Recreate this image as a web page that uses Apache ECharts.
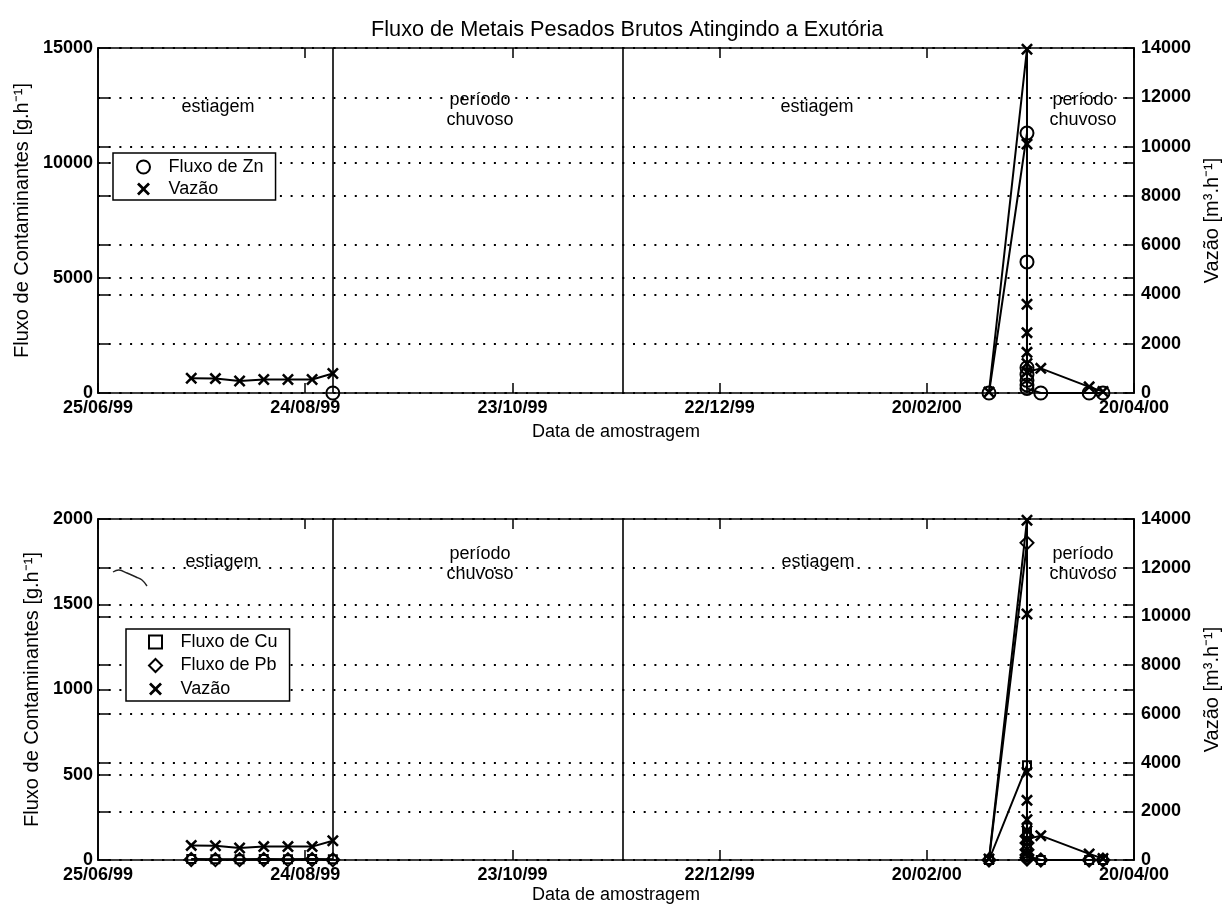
<!DOCTYPE html>
<html>
<head>
<meta charset="utf-8">
<script src="https://cdn.jsdelivr.net/npm/echarts@6/dist/echarts.min.js"></script>
<style>
  html, body { margin: 0; padding: 0; background: #fff; }
  #chart { width: 1230px; height: 911px; }
</style>
</head>
<body>
<div id="chart"></div>
<script>
// ---- sampling dates (dd/mm/yy) ----
const xTicks = ['25/06/99', '24/08/99', '23/10/99', '22/12/99', '20/02/00', '20/04/00'];
const dryDates = ['22/07/99', '29/07/99', '05/08/99', '12/08/99', '19/08/99', '26/08/99', '01/09/99'];
const wetDates = ['09/03/00', '20/03/00', '20/03/00', '20/03/00', '20/03/00', '20/03/00', '20/03/00', '20/03/00',
                  '24/03/00', '07/04/00', '11/04/00'];
const periodBounds = ['01/09/99', '24/11/99', '20/03/00'];

// ---- flow (m3/h) ----
const vazaoDry = [600, 585, 490, 550, 550, 550, 790];
const vazaoWet = [40, 13950, 10100, 3600, 2450, 1650, 1200, 850, 1000, 250, 60];

// ---- contaminant fluxes (g/h) ----
const znDry = [null, null, null, null, null, null, 0];
const znWet = [0, 11300, 5700, 1100, 800, 550, 350, 200, 0, 0, 0];
const cuDry = [6, 5, 5, 6, 5, 6, 4];
const cuWet = [0, 555, 190, 150, 110, 70, 40, 20, 0, 0, 0];
const pbDry = [3, 2, 2, 3, 2, 3, 1];
const pbWet = [0, 1860, 140, 100, 60, 30, 15, 5, 0, 0, 0];

// ---- axis ranges ----
const fluxZnMax = 15000, fluxZnStep = 5000;
const fluxCuPbMax = 2000, fluxCuPbStep = 500;
const vazaoMax = 14000, vazaoStep = 2000;

// ---- texts ----
const titleText = 'Fluxo de Metais Pesados Brutos Atingindo a Exutória';
const xName = 'Data de amostragem';
const yLeftName = 'Fluxo de Contaminantes [g.h⁻¹]';
const yRightName = 'Vazão [m³.h⁻¹]';
const periodNames = ['estiagem', 'período\nchuvoso', 'estiagem', 'período\nchuvoso'];

// ---- date helpers ----
const BASE = Date.UTC(1999, 5, 25);
function toDay(s) {
  const [d, m, y] = s.split('/').map(Number);
  const yr = y > 50 ? 1900 + y : 2000 + y;
  return Math.round((Date.UTC(yr, m - 1, d) - BASE) / 864e5);
}
const xMin = toDay(xTicks[0]);
const xMax = toDay(xTicks[xTicks.length - 1]);
const xStep = (xMax - xMin) / (xTicks.length - 1);
const pairs = (dates, vals) => dates.map((d, i) => [toDay(d), vals[i]]);

// ---- styling ----
const FONT = '"Liberation Sans", Arial, Helvetica, sans-serif';
const INK = '#000';
const X_PATH = 'path://M0,1.5L1.5,0L5,3.5L8.5,0L10,1.5L6.5,5L10,8.5L8.5,10L5,6.5L1.5,10L0,8.5L3.5,5Z';
const SQ_PATH = 'path://M0,0H10V10H0Z';
const DIA_PATH = 'path://M5,0L10,5L5,10L0,5Z';
const dotted = { color: INK, width: 2, type: [2, 8.7] };
const hollow = { color: 'rgba(0,0,0,0)', borderColor: INK, borderWidth: 2 };

const grids = [
  { left: 98, right: 94, top: 48, height: 345 },
  { left: 98, right: 94, top: 519, height: 341 }
];

function xAx(grid, pos, labels, nameGap) {
  return {
    type: 'value', gridIndex: grid, position: pos, min: xMin, max: xMax, interval: xStep,
    axisLine: { show: true, onZero: false, lineStyle: { color: INK, width: 1.6 } },
    axisTick: { show: true, inside: true, length: 10, lineStyle: { color: INK, width: 1.5 } },
    axisLabel: {
      show: labels, margin: 6, color: INK, fontFamily: FONT, fontSize: 18, fontWeight: 'bold',
      showMinLabel: true, showMaxLabel: true,
      formatter: v => xTicks[Math.round((v - xMin) / xStep)]
    },
    splitLine: { show: false },
    name: labels ? xName : '', nameLocation: 'middle', nameGap: nameGap || 0,
    nameTextStyle: { color: INK, fontFamily: FONT, fontSize: 18 }
  };
}

function yAx(grid, pos, max, step, labels, name, nameGap) {
  return {
    type: 'value', gridIndex: grid, position: pos, min: 0, max: max, interval: step,
    axisLine: { show: true, onZero: false, lineStyle: { color: INK, width: 1.6 } },
    axisTick: { show: true, inside: true, length: 11, lineStyle: { color: INK, width: 1.5 } },
    axisLabel: {
      show: labels, margin: pos === 'left' ? 5 : 7, color: INK,
      fontFamily: FONT, fontSize: 18, fontWeight: 'bold', showMinLabel: true, showMaxLabel: true,
      formatter: v => String(v)
    },
    splitLine: { show: labels, lineStyle: dotted },
    name: labels ? name : '', nameLocation: 'middle', nameRotate: 90, nameGap: nameGap || 0,
    nameTextStyle: { color: INK, fontFamily: FONT, fontSize: 20 }
  };
}

// each panel: labelled left + right axes, plus mirrored tick sets on the opposite sides
const xAxes = [
  xAx(0, 'bottom', true, 30), xAx(0, 'top', false),
  xAx(1, 'bottom', true, 26), xAx(1, 'top', false)
];
const yAxes = [
  yAx(0, 'left', fluxZnMax, fluxZnStep, true, yLeftName, 66),      // 0
  yAx(0, 'right', vazaoMax, vazaoStep, true, yRightName, 66),       // 1
  yAx(0, 'right', fluxZnMax, fluxZnStep, false),                    // 2
  yAx(0, 'left', vazaoMax, vazaoStep, false),                       // 3
  yAx(1, 'left', fluxCuPbMax, fluxCuPbStep, true, yLeftName, 53),   // 4
  yAx(1, 'right', vazaoMax, vazaoStep, true, yRightName, 66),       // 5
  yAx(1, 'right', fluxCuPbMax, fluxCuPbStep, false),                // 6
  yAx(1, 'left', vazaoMax, vazaoStep, false)                        // 7
];

function lineSeries(name, data, xi, yi, symbol, size, itemStyle, extra) {
  return Object.assign({
    type: 'line', name: name, data: data, xAxisIndex: xi, yAxisIndex: yi,
    symbol: symbol, symbolSize: size, showAllSymbol: true, clip: false,
    lineStyle: { color: INK, width: 2 }, itemStyle: itemStyle,
    animation: false, emphasis: { disabled: true }
  }, extra || {});
}
const xMarker = { color: INK, borderWidth: 0 };

const dividers = {
  silent: true, symbol: 'none', label: { show: false },
  lineStyle: { color: INK, type: 'solid', width: 1.6 },
  data: periodBounds.map(d => ({ xAxis: toDay(d) }))
};

const series = [
  // upper panel: zinc flux and flow
  lineSeries('Fluxo de Zn', pairs(dryDates, znDry), 0, 0, 'circle', 13, hollow, { markLine: dividers }),
  lineSeries('Fluxo de Zn', pairs(wetDates, znWet), 0, 0, 'circle', 13, hollow),
  lineSeries('Vazão', pairs(dryDates, vazaoDry), 0, 1, X_PATH, 12, xMarker),
  lineSeries('Vazão', pairs(wetDates, vazaoWet), 0, 1, X_PATH, 12, xMarker),
  // lower panel: copper and lead fluxes and flow
  lineSeries('Fluxo de Cu', pairs(dryDates, cuDry), 2, 4, 'rect', 8, hollow, { markLine: dividers }),
  lineSeries('Fluxo de Cu', pairs(wetDates, cuWet), 2, 4, 'rect', 8, hollow),
  lineSeries('Fluxo de Pb', pairs(dryDates, pbDry), 2, 4, 'diamond', 13, hollow),
  lineSeries('Fluxo de Pb', pairs(wetDates, pbWet), 2, 4, 'diamond', 13, hollow),
  lineSeries('Vazão', pairs(dryDates, vazaoDry), 2, 5, X_PATH, 12, xMarker),
  lineSeries('Vazão', pairs(wetDates, vazaoWet), 2, 5, X_PATH, 12, xMarker)
];

const legendText = { color: INK, fontFamily: FONT, fontSize: 18 };
const legendIcons = {
  'Fluxo de Zn': { icon: 'circle', itemStyle: hollow },
  'Fluxo de Cu': { icon: SQ_PATH, itemStyle: hollow },
  'Fluxo de Pb': { icon: DIA_PATH, itemStyle: hollow },
  'Vazão': { icon: X_PATH, itemStyle: { color: INK, borderWidth: 0 } }
};
function legendBox(names, left, top, padding, gap, iconSize) {
  return {
    orient: 'vertical', left: left, top: top, padding: padding, itemGap: gap,
    itemWidth: 40, itemHeight: iconSize, selectedMode: false, symbolKeepAspect: true,
    backgroundColor: '#fff', borderColor: INK, borderWidth: 1.5, borderRadius: 0,
    textStyle: legendText, z: 10,
    data: names.map(n => Object.assign({ name: n }, legendIcons[n]))
  };
}

const labelStyle = { fill: INK, font: '18px ' + FONT, textAlign: 'center', textVerticalAlign: 'middle', lineHeight: 20 };
function periodText(i, x, y) {
  return { type: 'text', x: x, y: y, silent: true, z: 5, style: Object.assign({ text: periodNames[i] }, labelStyle) };
}

const option = {
  backgroundColor: '#fff',
  animation: false,
  title: {
    text: titleText, left: 366, top: 14,
    textStyle: { color: INK, fontFamily: FONT, fontSize: 21.7, fontWeight: 'normal' }
  },
  grid: grids,
  xAxis: xAxes,
  yAxis: yAxes,
  legend: [
    legendBox(['Fluxo de Zn', 'Vazão'], 113, 153, [5, 12, 2, 23], 4, 13),
    legendBox(['Fluxo de Cu', 'Fluxo de Pb', 'Vazão'], 126, 629, [4, 12, 3, 22], 5.5, 13)
  ],
  graphic: [
    periodText(0, 218, 107), periodText(1, 480, 110), periodText(2, 817, 107), periodText(3, 1083, 110),
    periodText(0, 222, 562), periodText(1, 480, 564), periodText(2, 818, 562), periodText(3, 1083, 564),
    { type: 'polyline', silent: true, z: 5,
      shape: { points: [[113, 572], [119, 570], [127, 573], [136, 577], [142, 580], [147, 586]], smooth: 0.4 },
      style: { stroke: '#222', lineWidth: 1.4, fill: null } }
  ],
  series: series
};

const chart = echarts.init(document.getElementById('chart'), null, { renderer: 'canvas' });
chart.setOption(option);
</script>
</body>
</html>
